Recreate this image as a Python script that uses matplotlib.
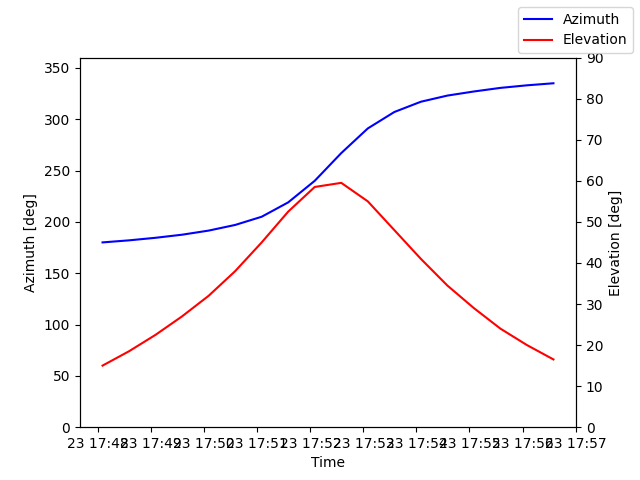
import datetime
import matplotlib
matplotlib.use('Agg')
import matplotlib.pyplot as plt
import matplotlib.dates as mdates

start = datetime.datetime(2023, 1, 23, 17, 48, 5)
times = [start + datetime.timedelta(seconds=30 * i) for i in range(18)]
azimuth = [180, 182, 184.5, 187.5, 191.5, 197, 205, 219, 240, 267,
           291, 307, 317, 323, 327, 330.5, 333, 335]
elevation = [15, 18.5, 22.5, 27, 32, 38, 45, 52.5, 58.5, 59.5,
             55, 48, 41, 34.5, 29, 24, 20, 16.5]

fig, ax = plt.subplots(figsize=(6.4, 4.8), dpi=100)
ax.plot(times, azimuth, "b", label="Azimuth")
ax.set_ylim(0, 360)
ax.set_ylabel("Azimuth [deg]")
ax.set_xlabel("Time")
ax2 = ax.twinx()
ax2.plot(times, elevation, "r", label="Elevation")
ax2.set_ylim(0, 90)
ax2.set_ylabel("Elevation [deg]")
ax.xaxis.set_major_locator(mdates.MinuteLocator())
ax.xaxis.set_major_formatter(mdates.DateFormatter("%d %H:%M"))
fig.legend()
fig.savefig("out.png")
